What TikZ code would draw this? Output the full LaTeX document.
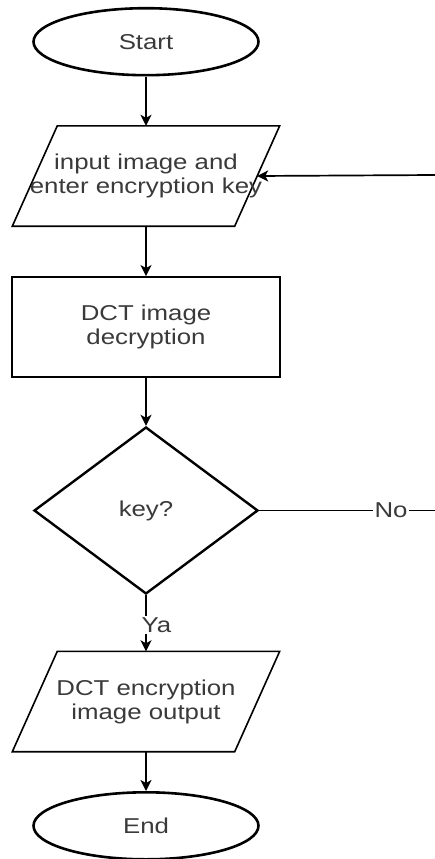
\documentclass[tikz,border=0pt]{standalone}
\usepackage{fontspec}
\setmainfont{Liberation Sans}[FakeStretch=1.2]
\usetikzlibrary{shapes.geometric,arrows.meta}
\definecolor{txtgray}{HTML}{3A3A3A}
\begin{document}
\begin{tikzpicture}[x=1pt,y=-1pt,
  every node/.style={font=\fontsize{21.5}{24}\selectfont, text=txtgray},
  term/.style={ellipse, draw=black, line width=2.6pt, minimum width=225pt, minimum height=67pt, inner sep=0pt},
  iobox/.style={rectangle, minimum width=222pt, minimum height=100pt, inner sep=0pt},
  iotext/.style={align=center, inner sep=0pt},
  ioline/.style={draw=black, line width=1.6pt, line join=miter},
  procbox/.style={rectangle, draw=black, line width=1.9pt, minimum width=268pt, minimum height=100pt, align=center, inner sep=0pt},
  decision/.style={diamond, draw=black, line width=2.4pt, minimum width=224pt, minimum height=167pt, inner sep=0pt},
  flow/.style={draw=black, line width=1.7pt, -{Stealth[length=11pt,width=11pt,inset=3pt]}},
  plain/.style={draw=black, line width=1.4pt},
  lbl/.style={fill=white, inner sep=1.5pt}
]
\useasboundingbox (0,0) rectangle (435,859);

\node[term] (start) at (146,41.7) {Start};
\node[iobox] (p1) at (146,176) {};
\draw[ioline] ([xshift=-22.5pt]p1.south west) -- ([xshift=-22.5pt]p1.south east)
  -- ([xshift=22.5pt]p1.north east) -- ([xshift=22.5pt]p1.north west) -- cycle;
\node[iotext] (p1t) at (p1.center) {input image and\\enter encryption key};
\node[procbox] (dct) at (146,327) {DCT image\\decryption};
\node[decision] (dec) at (146,510.5) {key?};
\node[iobox] (p2) at (146,701.5) {};
\draw[ioline] ([xshift=-22.5pt]p2.south west) -- ([xshift=-22.5pt]p2.south east)
  -- ([xshift=22.5pt]p2.north east) -- ([xshift=22.5pt]p2.north west) -- cycle;
\node[iotext] (p2t) at (p2.center) {DCT encryption\\image output};
\node[term] (end) at (146,825.8) {End};

\coordinate (noout) at (435,510.5);
\coordinate (fbin) at (435,175);

\draw[flow] (start) -- (p1);
\draw[flow] (p1) -- (dct);
\draw[flow] (dct) -- (dec);
\draw[flow] (dec) -- node[lbl, pos=0.53, xshift=10.5pt] {Ya} (p2);
\draw[flow] (p2) -- (end);
\draw[plain] (dec.east) -- node[lbl, pos=0.75] {No} (noout);
\draw[flow] (fbin) -- (p1.east);
\end{tikzpicture}
\end{document}
